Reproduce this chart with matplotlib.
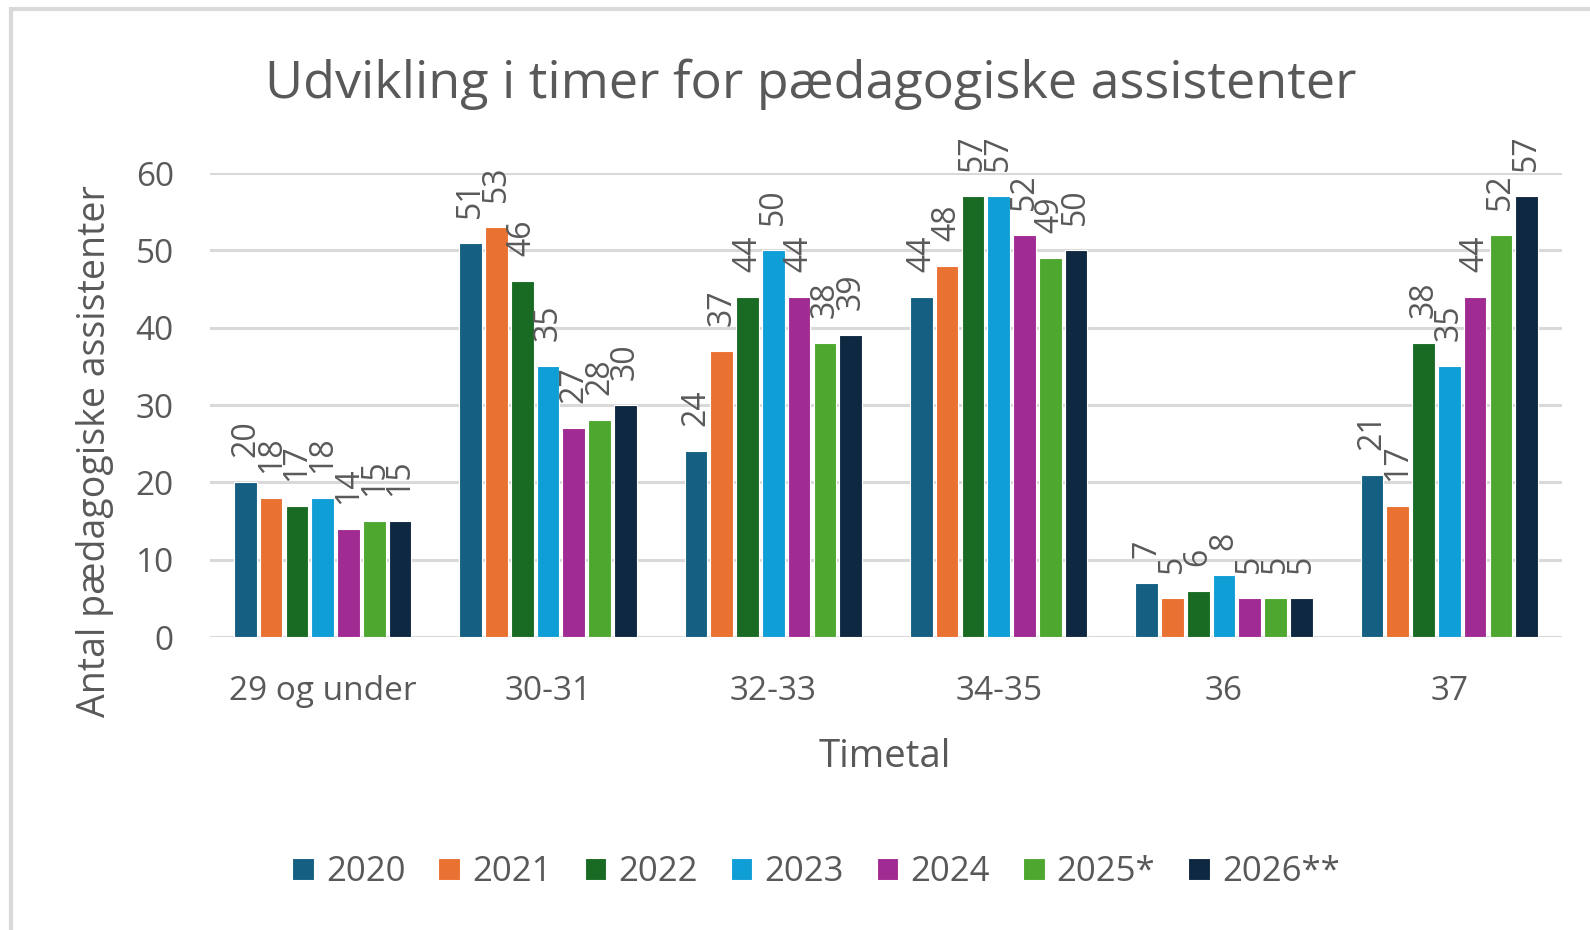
import matplotlib
matplotlib.use("Agg")
import matplotlib.pyplot as plt
from matplotlib.patches import Rectangle
import numpy as np

categories = ["29 og under", "30-31", "32-33", "34-35", "36", "37"]
series_names = ["2020", "2021", "2022", "2023", "2024", "2025*", "2026**"]
v2020 = [20, 51, 24, 44, 7, 21]
v2021 = [18, 53, 37, 48, 5, 17]
v2022 = [17, 46, 44, 57, 6, 38]
v2023 = [18, 35, 50, 57, 8, 35]
v2024 = [14, 27, 44, 52, 5, 44]
v2025 = [15, 28, 38, 49, 5, 52]
v2026 = [15, 30, 39, 50, 5, 57]
colors = ["#156082", "#e97132", "#196b24", "#0f9ed5", "#a02b93", "#4ea72e", "#0e2841"]

text_color = "#595959"
grid_color = "#d9d9d9"

def main():
	plt.rcParams['font.family'] = ['Open Sans', 'DejaVu Sans']
	fig = plt.figure(figsize=(15.9, 9.3), dpi=100)
	fig.patch.set_facecolor("white")

	# chart frame
	fig.patches.append(Rectangle((11/1590, -0.1), 1.2, 1 - 9/930 + 0.1, transform=fig.transFigure,
		fill=False, edgecolor=grid_color, linewidth=3))

	ax = fig.add_axes([210/1590, 1 - 637/930, (1562 - 210)/1590, (637 - 173)/930])
	data = [v2020, v2021, v2022, v2023, v2024, v2025, v2026]
	x = np.arange(len(categories))
	n = len(data)
	group = 0.8
	slot = group / n
	for i, vals in enumerate(data):
		pos = x - group/2 + slot*(i + 0.5)
		bars = ax.bar(pos, vals, width=slot*0.88, color=colors[i], edgecolor="white",
			linewidth=0.8, label=series_names[i], zorder=3)
		for b, v in zip(bars, vals):
			ax.annotate(str(v), (b.get_x() + b.get_width()/2, v), xytext=(0, 18),
				textcoords="offset points", rotation=90, ha="center", va="bottom",
				fontsize=23, color=text_color)

	ax.set_xlim(-0.5, len(categories) - 0.5)
	ax.set_ylim(0, 60)
	ax.set_yticks([0, 10, 20, 30, 40, 50, 60])
	ax.set_xticks(x)
	ax.set_xticklabels(categories)
	ax.tick_params(axis="both", length=0, labelsize=24, colors=text_color)
	ax.tick_params(axis="x", pad=27)
	ax.tick_params(axis="y", pad=26)
	for s in ax.spines.values():
		s.set_visible(False)
	ax.yaxis.grid(True, color=grid_color, linewidth=2.2, zorder=0)
	ax.set_axisbelow(True)

	fig.text(811/1590, 1 - 84/930, "Udvikling i timer for pædagogiske assistenter",
		ha="center", va="center", fontsize=37.5, color=text_color)
	fig.text(95/1590, 1 - 451/930, "Antal pædagogiske assistenter", rotation=90,
		ha="center", va="center", fontsize=27, color=text_color)
	fig.text(885/1590, 1 - 757/930, "Timetal", ha="center", va="center",
		fontsize=27.5, color=text_color)

	handles, labels = ax.get_legend_handles_labels()
	fig.legend(handles, labels, loc="center", bbox_to_anchor=(816/1590, 1 - 872/930),
		ncol=7, frameon=False, fontsize=25, labelcolor=text_color,
		handlelength=0.62, handleheight=0.62, handletextpad=0.35, columnspacing=0.95)

	plt.savefig("out.png", dpi=100)

if __name__ == '__main__':
	main()
